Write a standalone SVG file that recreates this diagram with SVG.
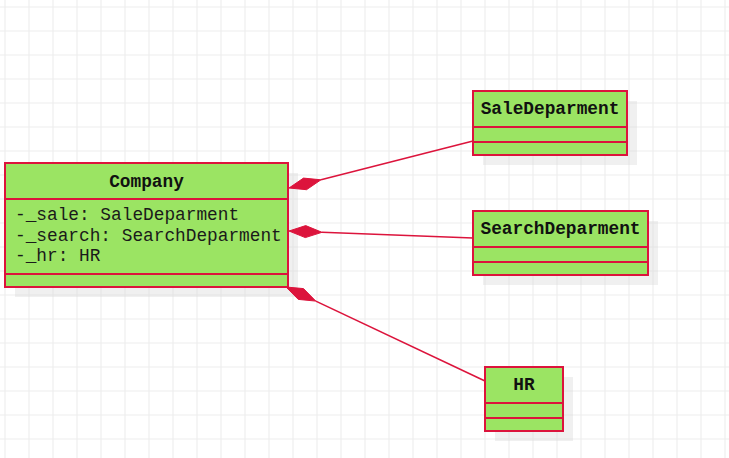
<svg xmlns="http://www.w3.org/2000/svg" width="729" height="458" viewBox="0 0 729 458">
  <style>
    .grid { stroke: #eeeeee; stroke-width: 1.2; fill: none; }
    .box { fill: #9be463; stroke: #dc143c; stroke-width: 2; }
    .sep { stroke: #dc143c; stroke-width: 2; }
    .shadow { fill: #d9d9d9; fill-opacity: 0.4; }
    .title { font-family: "Liberation Mono", monospace; font-size: 17.8px; font-weight: bold; fill: #111; text-anchor: middle; }
    .attr { font-family: "Liberation Mono", monospace; font-size: 17.8px; fill: #1a1a1a; }
    .conn { stroke: #dc143c; stroke-width: 1.6; fill: none; }
    .diamond { fill: #dc143c; stroke: #dc143c; stroke-width: 1; stroke-linejoin: miter; }
  </style>
  <rect width="729" height="458" fill="#ffffff"/>
  <path class="grid" d="M5 0V458 M29 0V458 M53 0V458 M77 0V458 M101 0V458 M125 0V458 M149 0V458 M173 0V458 M197 0V458 M221 0V458 M245 0V458 M269 0V458 M293 0V458 M317 0V458 M341 0V458 M365 0V458 M389 0V458 M413 0V458 M437 0V458 M461 0V458 M485 0V458 M509 0V458 M533 0V458 M557 0V458 M581 0V458 M605 0V458 M629 0V458 M653 0V458 M677 0V458 M701 0V458 M725 0V458 M0 7H729 M0 31H729 M0 55H729 M0 79H729 M0 103H729 M0 127H729 M0 151H729 M0 175H729 M0 199H729 M0 223H729 M0 247H729 M0 271H729 M0 295H729 M0 319H729 M0 343H729 M0 367H729 M0 391H729 M0 415H729 M0 439H729"/>

  <g id="company">
    <rect class="shadow" x="15" y="173" width="283" height="124"/>
    <rect class="box" x="5" y="163" width="283" height="124"/>
    <line class="sep" x1="5" y1="199" x2="288" y2="199"/>
    <line class="sep" x1="5" y1="274" x2="288" y2="274"/>
    <text class="title" x="146.5" y="186.5">Company</text>
    <text class="attr" x="15" y="220">-_sale: SaleDeparment</text>
    <text class="attr" x="15" y="240.7">-_search: SearchDeparment</text>
    <text class="attr" x="15" y="261.4">-_hr: HR</text>
  </g>

  <g id="saledeparment">
    <rect class="shadow" x="483" y="101" width="154" height="64"/>
    <rect class="box" x="473" y="91" width="154" height="64"/>
    <line class="sep" x1="473" y1="127" x2="627" y2="127"/>
    <line class="sep" x1="473" y1="142" x2="627" y2="142"/>
    <text class="title" x="550" y="114">SaleDeparment</text>
  </g>

  <g id="searchdeparment">
    <rect class="shadow" x="483" y="221" width="175" height="64"/>
    <rect class="box" x="473" y="211" width="175" height="64"/>
    <line class="sep" x1="473" y1="247" x2="648" y2="247"/>
    <line class="sep" x1="473" y1="262" x2="648" y2="262"/>
    <text class="title" x="560.5" y="234">SearchDeparment</text>
  </g>

  <g id="hr">
    <rect class="shadow" x="495" y="377" width="78" height="64"/>
    <rect class="box" x="485" y="367" width="78" height="64"/>
    <line class="sep" x1="485" y1="403" x2="563" y2="403"/>
    <line class="sep" x1="485" y1="418" x2="563" y2="418"/>
    <text class="title" x="524" y="390">HR</text>
  </g>

  <g id="connectors">
    <line class="conn" x1="321" y1="179.8" x2="473" y2="141"/>
    <polygon class="diamond" points="289,188 303.5,178.1 321,179.8 306.5,189.7"/>
    <line class="conn" x1="322" y1="232.3" x2="473" y2="238"/>
    <polygon class="diamond" points="289,231 305.7,225.6 322,232.3 305.3,237.6"/>
    <line class="conn" x1="315.8" y1="301.1" x2="485" y2="381"/>
    <polygon class="diamond" points="286,287 303.5,288.6 315.8,301.1 298.3,299.4"/>
  </g>
</svg>
